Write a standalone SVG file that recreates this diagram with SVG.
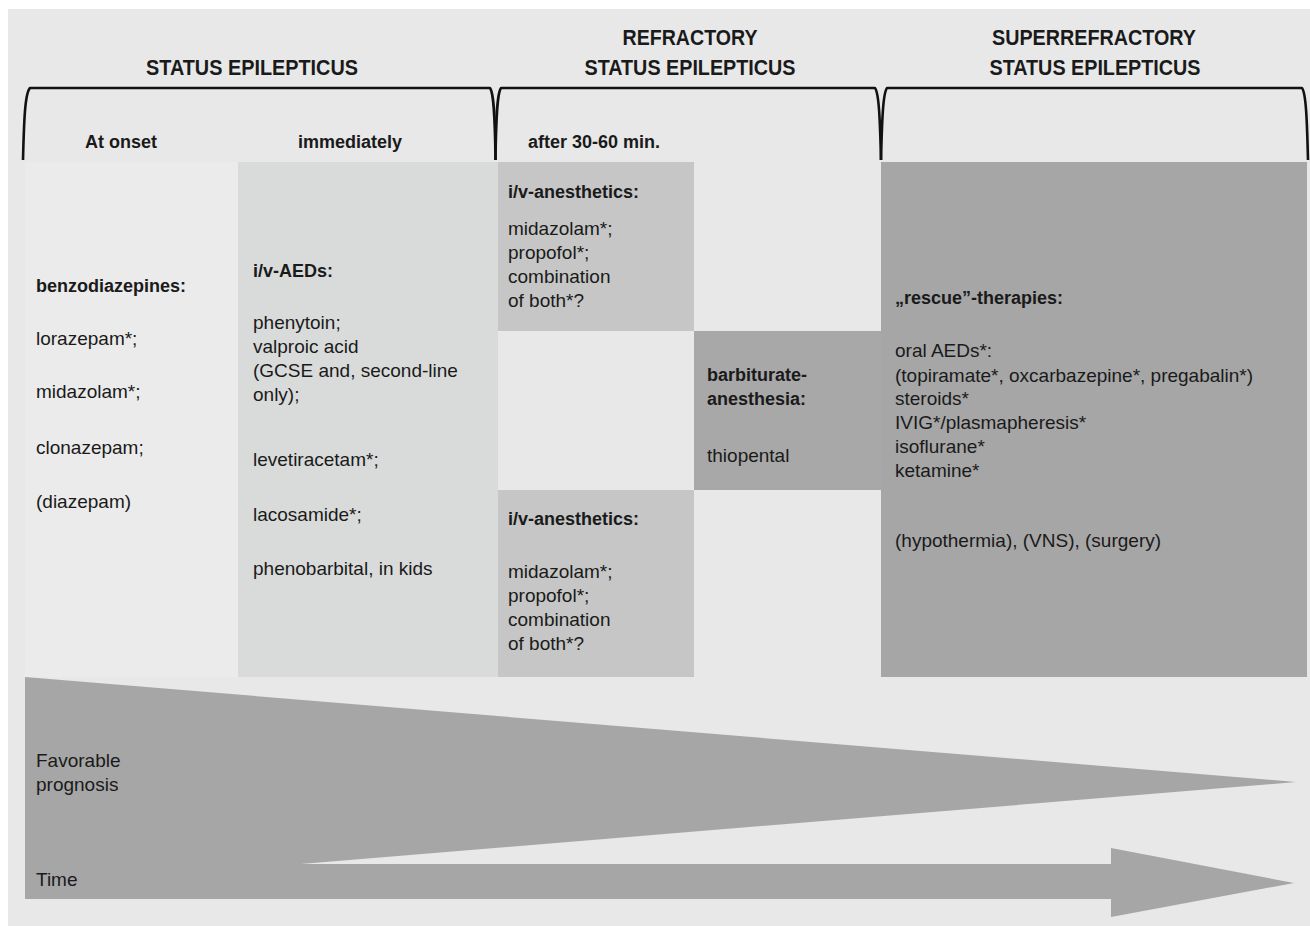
<svg xmlns="http://www.w3.org/2000/svg" width="1310" height="926" viewBox="0 0 1310 926">
<style>
text{font-family:"Liberation Sans",Arial,sans-serif;fill:#1a1a1a}
.h{font-size:22px;font-weight:bold;text-anchor:middle}
.sh{font-size:18px;font-weight:bold}
.b{font-size:18px;font-weight:bold}
.t{font-size:19px}
.br{fill:none;stroke:#111;stroke-width:2.6;stroke-linejoin:round}
</style>
<rect x="8" y="9" width="1302" height="917" fill="#e8e8e8"/>
<g id="headers">
<text class="h" x="252" y="75" textLength="212" lengthAdjust="spacingAndGlyphs">STATUS EPILEPTICUS</text>
<text class="h" x="690" y="45" textLength="135" lengthAdjust="spacingAndGlyphs">REFRACTORY</text>
<text class="h" x="690" y="75" textLength="211" lengthAdjust="spacingAndGlyphs">STATUS EPILEPTICUS</text>
<text class="h" x="1094" y="45" textLength="204" lengthAdjust="spacingAndGlyphs">SUPERREFRACTORY</text>
<text class="h" x="1095" y="75" textLength="211" lengthAdjust="spacingAndGlyphs">STATUS EPILEPTICUS</text>
</g>
<g id="brackets">
<path class="br" d="M23,160 C24,120 25,93 30,88 L490,88 C494,93 495,120 495.5,160"/>
<path class="br" d="M495.5,160 C496,120 497,93 501,88 L875,88 C879,93 880,120 881,160"/>
<path class="br" d="M881,160 C882,120 883,93 887,88 L1302,88 C1306,93 1307,120 1308,160"/>
</g>
<g id="subheaders">
<text class="sh" x="85" y="148">At onset</text>
<text class="sh" x="298" y="148">immediately</text>
<text class="sh" x="528" y="148">after 30-60 min.</text>
</g>
<g id="col-onset">
<rect x="25" y="162" width="213" height="515" fill="#ebebeb"/>
<text class="b" x="36" y="292">benzodiazepines:</text>
<text class="t" x="36" y="345">lorazepam*;</text>
<text class="t" x="36" y="398">midazolam*;</text>
<text class="t" x="36" y="454">clonazepam;</text>
<text class="t" x="36" y="508">(diazepam)</text>
</g>
<g id="col-immediately">
<rect x="238" y="162" width="260" height="515" fill="#d9dbda"/>
<text class="b" x="253" y="277">i/v-AEDs:</text>
<text class="t" x="253" y="329">phenytoin;</text>
<text class="t" x="253" y="353">valproic acid</text>
<text class="t" x="253" y="377">(GCSE and, second-line</text>
<text class="t" x="253" y="401">only);</text>
<text class="t" x="253" y="466">levetiracetam*;</text>
<text class="t" x="253" y="521">lacosamide*;</text>
<text class="t" x="253" y="575">phenobarbital, in kids</text>
</g>
<g id="anesthetics-top">
<rect x="498" y="162" width="196" height="169" fill="#c5c6c5"/>
<text class="b" x="508" y="198">i/v-anesthetics:</text>
<text class="t" x="508" y="235">midazolam*;</text>
<text class="t" x="508" y="259">propofol*;</text>
<text class="t" x="508" y="283">combination</text>
<text class="t" x="508" y="307">of both*?</text>
</g>
<g id="barbiturate">
<rect x="694" y="331" width="187" height="159" fill="#a8a8a8"/>
<text class="b" x="707" y="381">barbiturate-</text>
<text class="b" x="707" y="405">anesthesia:</text>
<text class="t" x="707" y="462">thiopental</text>
</g>
<g id="anesthetics-bottom">
<rect x="498" y="490" width="196" height="187" fill="#c5c6c5"/>
<text class="b" x="508" y="525">i/v-anesthetics:</text>
<text class="t" x="508" y="578">midazolam*;</text>
<text class="t" x="508" y="602">propofol*;</text>
<text class="t" x="508" y="626">combination</text>
<text class="t" x="508" y="650">of both*?</text>
</g>
<g id="superrefractory">
<rect x="881" y="162" width="426" height="515" fill="#a6a6a6"/>
<text class="b" x="895" y="304">„rescue”-therapies:</text>
<text class="t" x="895" y="357">oral AEDs*:</text>
<text class="t" x="895" y="382">(topiramate*, oxcarbazepine*, pregabalin*)</text>
<text class="t" x="895" y="405">steroids*</text>
<text class="t" x="895" y="429">IVIG*/plasmapheresis*</text>
<text class="t" x="895" y="453">isoflurane*</text>
<text class="t" x="895" y="477">ketamine*</text>
<text class="t" x="895" y="547">(hypothermia), (VNS), (surgery)</text>
</g>
<g id="prognosis-time">
<polygon points="25,677 1296,782 301,864 1111,864 1111,848 1294,883 1111,917 1111,899 25,899" fill="#a6a6a6"/>
<text class="t" x="36" y="767">Favorable</text>
<text class="t" x="36" y="791">prognosis</text>
<text class="t" x="36" y="886">Time</text>
</g>
</svg>
